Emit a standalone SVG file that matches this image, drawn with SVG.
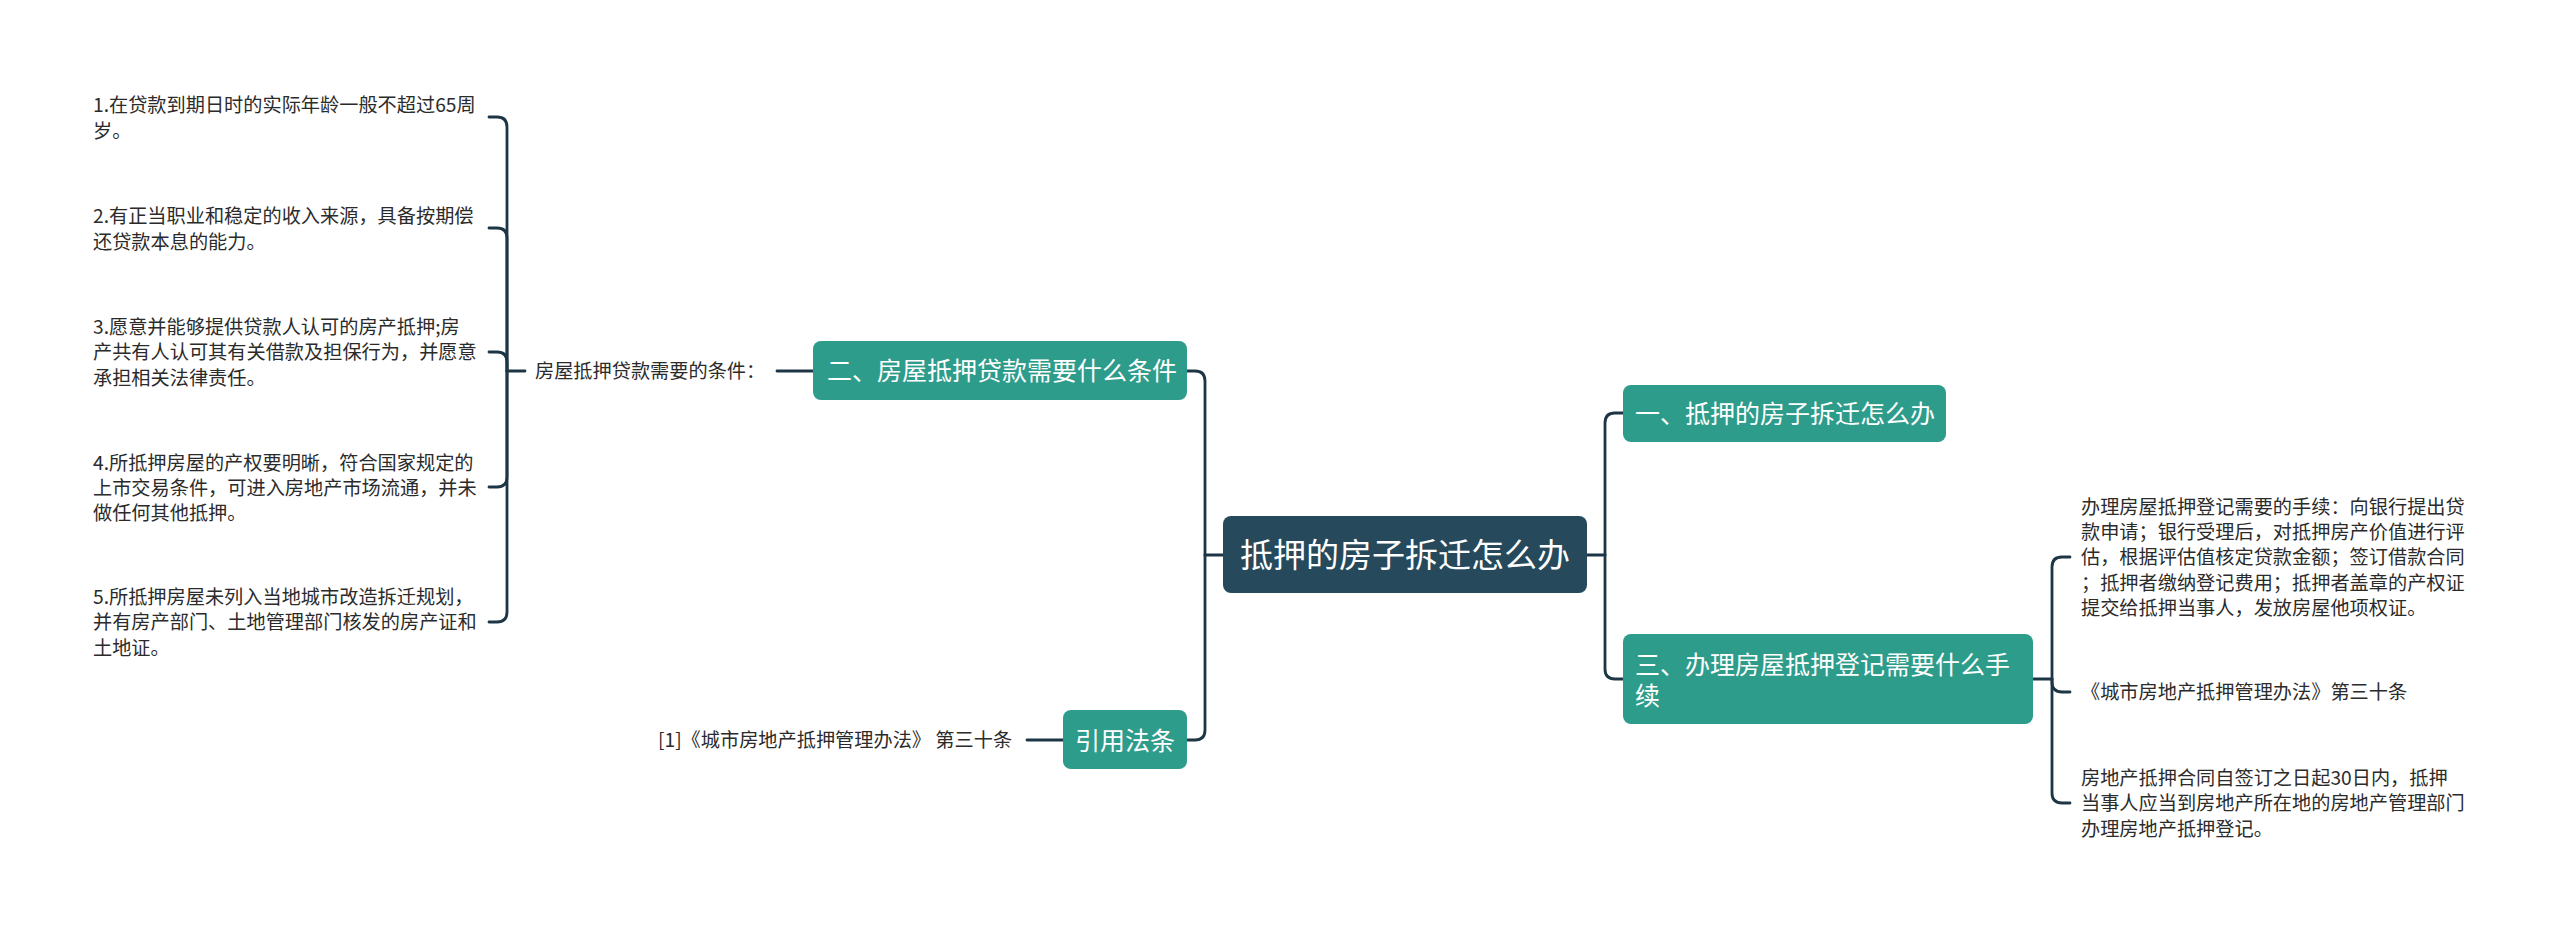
<svg xmlns="http://www.w3.org/2000/svg" width="2560" height="932" viewBox="0 0 2560 932">
<style>
.bg{fill:#ffffff}
.ln{fill:none;stroke:#1d3646;stroke-width:2.8;stroke-linecap:round;stroke-linejoin:round}
.teal{fill:#2e9c8b}
.root{fill:#264a5b}
.t{font-family:"Noto Sans CJK SC","Noto Sans",sans-serif;font-size:19.2px;fill:#2b2b2b}
.tw{font-family:"Noto Sans CJK SC","Noto Sans",sans-serif;font-size:25px;fill:#ffffff}
.tr{font-family:"Noto Sans CJK SC","Noto Sans",sans-serif;font-size:33px;fill:#ffffff}
</style>
<rect class="bg" x="0" y="0" width="2560" height="932"/>
<g id="connectors">
<path class="ln" d="M525,371 H507"/>
<path class="ln" d="M507,371 V127 Q507,117 497,117 H489"/>
<path class="ln" d="M507,371 V238 Q507,228 497,228 H489"/>
<path class="ln" d="M507,371 V362 Q507,352 497,352 H489"/>
<path class="ln" d="M507,371 V477 Q507,487 497,487 H489"/>
<path class="ln" d="M507,371 V612 Q507,622 497,622 H489"/>
<path class="ln" d="M813,371 H777"/>
<path class="ln" d="M1223,555 H1205"/>
<path class="ln" d="M1205,555 V381 Q1205,371 1195,371 H1187"/>
<path class="ln" d="M1205,555 V730 Q1205,740 1195,740 H1187"/>
<path class="ln" d="M1063,740 H1027"/>
<path class="ln" d="M1587,555 H1605"/>
<path class="ln" d="M1605,555 V423 Q1605,413 1615,413 H1623"/>
<path class="ln" d="M1605,555 V669 Q1605,679 1615,679 H1623"/>
<path class="ln" d="M2033,679 H2052"/>
<path class="ln" d="M2052,679 V567 Q2052,557 2062,557 H2070"/>
<path class="ln" d="M2052,679 V682 Q2052,692 2062,692 H2070"/>
<path class="ln" d="M2052,679 V793 Q2052,803 2062,803 H2070"/>
</g>
<g id="root">
<rect class="root" x="1223" y="516" width="364" height="77" rx="8"/>
<text class="tr" x="1405" y="567" text-anchor="middle">抵押的房子拆迁怎么办</text>
</g>
<g id="n2">
<rect class="teal" x="813" y="341" width="374" height="59" rx="8"/>
<text class="tw" x="827" y="380">二、房屋抵押贷款需要什么条件</text>
</g>
<g id="n2label">
<text class="t" x="535" y="378.3">房屋抵押贷款需要的条件：</text>
</g>
<g id="item1">
<text class="t" x="93" y="112.2">1.在贷款到期日时的实际年龄一般不超过65周</text>
<text class="t" x="93" y="137.5">岁。</text>
</g>
<g id="item2">
<text class="t" x="93" y="223.2">2.有正当职业和稳定的收入来源，具备按期偿</text>
<text class="t" x="93" y="248.5">还贷款本息的能力。</text>
</g>
<g id="item3">
<text class="t" x="93" y="334">3.愿意并能够提供贷款人认可的房产抵押;房</text>
<text class="t" x="93" y="359.3">产共有人认可其有关借款及担保行为，并愿意</text>
<text class="t" x="93" y="384.6">承担相关法律责任。</text>
</g>
<g id="item4">
<text class="t" x="93" y="469.5">4.所抵押房屋的产权要明晰，符合国家规定的</text>
<text class="t" x="93" y="494.8">上市交易条件，可进入房地产市场流通，并未</text>
<text class="t" x="93" y="520.1">做任何其他抵押。</text>
</g>
<g id="item5">
<text class="t" x="93" y="604">5.所抵押房屋未列入当地城市改造拆迁规划，</text>
<text class="t" x="93" y="629.3">并有房产部门、土地管理部门核发的房产证和</text>
<text class="t" x="93" y="654.6">土地证。</text>
</g>
<g id="nref">
<rect class="teal" x="1063" y="710" width="124" height="59" rx="8"/>
<text class="tw" x="1125" y="749.5" text-anchor="middle">引用法条</text>
</g>
<g id="refText">
<text class="t" x="658" y="747.3">[1]《城市房地产抵押管理办法》 第三十条</text>
</g>
<g id="n1">
<rect class="teal" x="1623" y="385" width="323" height="57" rx="8"/>
<text class="tw" x="1635" y="422.5">一、抵押的房子拆迁怎么办</text>
</g>
<g id="n3">
<rect class="teal" x="1623" y="634" width="410" height="90" rx="8"/>
<text class="tw" x="1635" y="673.5">三、办理房屋抵押登记需要什么手</text>
<text class="tw" x="1635" y="704.5">续</text>
</g>
<g id="n3a">
<text class="t" x="2081" y="513.7">办理房屋抵押登记需要的手续：向银行提出贷</text>
<text class="t" x="2081" y="539">款申请；银行受理后，对抵押房产价值进行评</text>
<text class="t" x="2081" y="564.3">估，根据评估值核定贷款金额；签订借款合同</text>
<text class="t" x="2081" y="589.6">；抵押者缴纳登记费用；抵押者盖章的产权证</text>
<text class="t" x="2081" y="614.9">提交给抵押当事人，发放房屋他项权证。</text>
</g>
<g id="n3b">
<text class="t" x="2081" y="699.3">《城市房地产抵押管理办法》第三十条</text>
</g>
<g id="n3c">
<text class="t" x="2081" y="785">房地产抵押合同自签订之日起30日内，抵押</text>
<text class="t" x="2081" y="810.3">当事人应当到房地产所在地的房地产管理部门</text>
<text class="t" x="2081" y="835.6">办理房地产抵押登记。</text>
</g>
</svg>
